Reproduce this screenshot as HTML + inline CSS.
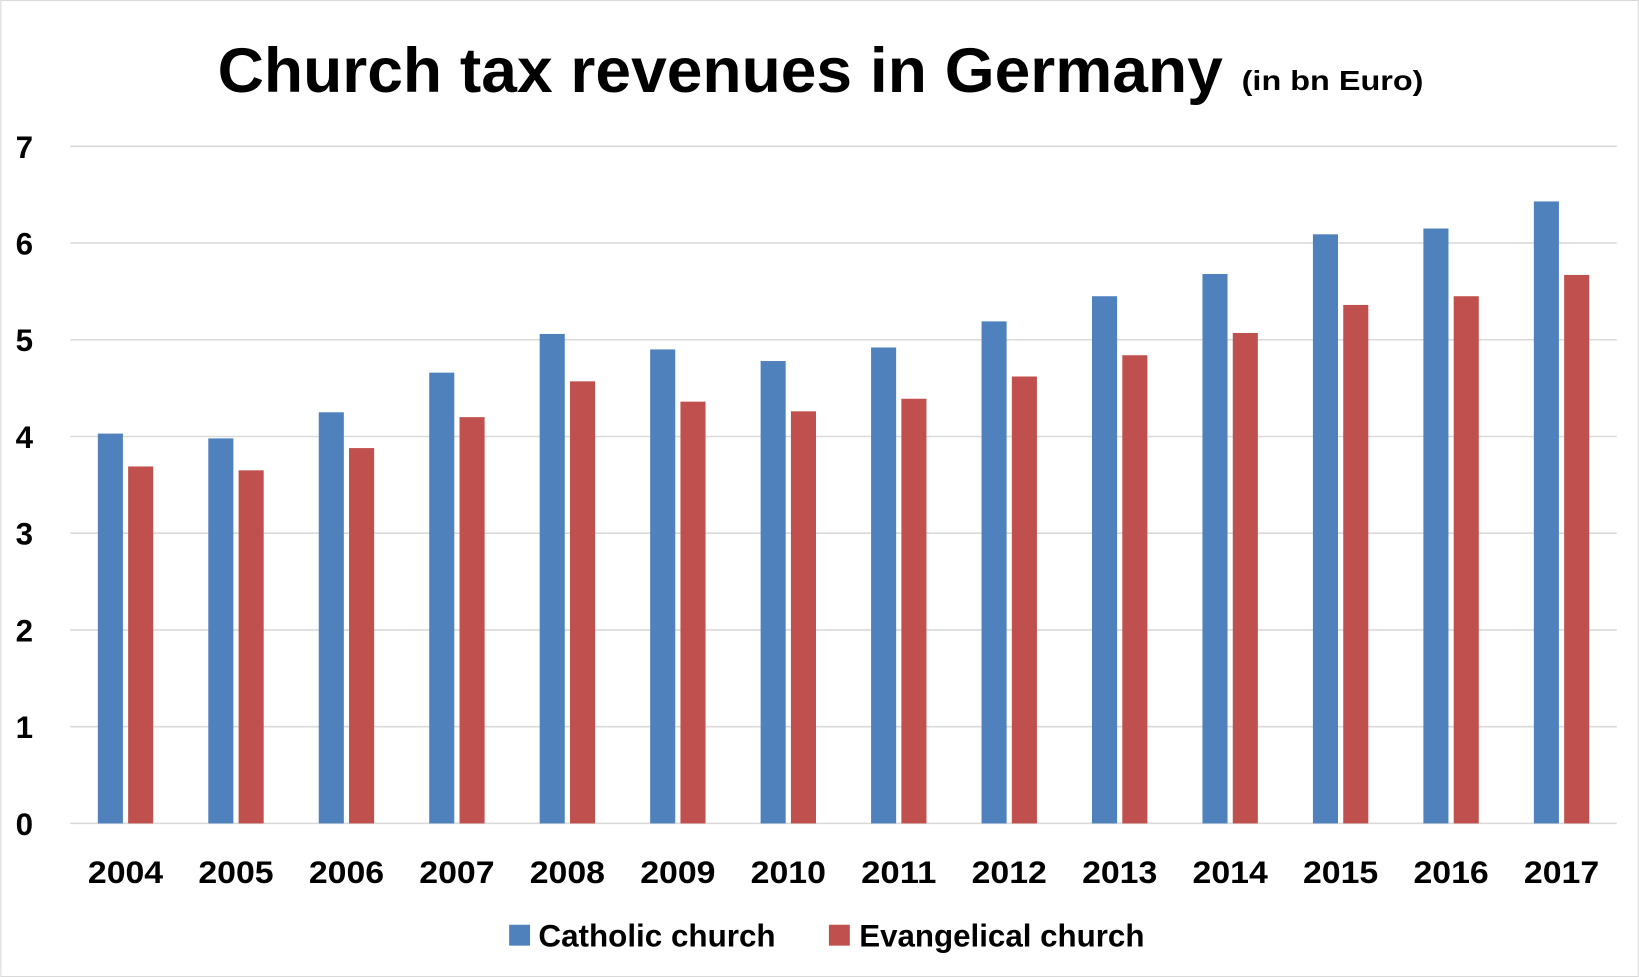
<!DOCTYPE html>
<html><head><meta charset="utf-8"><style>
html,body{margin:0;padding:0;background:#fff}
svg{display:block}
text{font-family:"Liberation Sans",sans-serif;font-weight:bold;fill:#000}
</style></head><body>
<svg id="chart" width="1639" height="977" viewBox="0 0 1568 935" xmlns="http://www.w3.org/2000/svg">
<rect x="0.5" y="0.5" width="1567" height="934" fill="#fff" stroke="#d9d9d9"/>
<text x="208" y="88" font-size="60" textLength="962" lengthAdjust="spacingAndGlyphs">Church tax revenues in Germany</text>
<text x="1188" y="86" font-size="27" textLength="174" lengthAdjust="spacingAndGlyphs">(in bn Euro)</text>
<g id="grid"></g><g id="bars"></g><g id="xlabels"></g>
<g>
<rect x="487" y="885" width="20" height="20" fill="#4f81bd"/>
<text x="515" y="906" font-size="30" textLength="227" lengthAdjust="spacingAndGlyphs">Catholic church</text>
<rect x="793" y="885" width="20" height="20" fill="#c0504d"/>
<text x="822" y="906" font-size="30" textLength="273" lengthAdjust="spacingAndGlyphs">Evangelical church</text>
</g>
</svg>
<script>
const categories=["2004","2005","2006","2007","2008","2009","2010","2011","2012","2013","2014","2015","2016","2017"];
const catholic=[4.03,3.98,4.25,4.66,5.06,4.90,4.78,4.92,5.19,5.45,5.68,6.09,6.15,6.43];
const evangelical=[3.69,3.65,3.88,4.20,4.57,4.36,4.26,4.39,4.62,4.84,5.07,5.36,5.45,5.67];
const yTicks=[0,1,2,3,4,5,6,7];
const NS="http://www.w3.org/2000/svg";
const X0=67,X1=1547,Y0=788,Y7=140;
const y=v=>Y0-(v/7)*(Y0-Y7);
const band=(X1-X0)/categories.length;
const xc=i=>X0+band*(i+0.5);
function mk(tag,attrs,parent){const e=document.createElementNS(NS,tag);for(const k in attrs)e.setAttribute(k,attrs[k]);parent.appendChild(e);return e;}
const grid=document.getElementById('grid'),bars=document.getElementById('bars'),xl=document.getElementById('xlabels');
yTicks.forEach(t=>{
  const l=mk('line',{x1:X0,x2:X1,y1:y(t),y2:y(t),stroke:'#d9d9d9','stroke-width':1.5},grid);
  
  
  const tx=mk('text',{x:23,y:y(t)+11,'font-size':30,'text-anchor':'middle'},grid);
  tx.textContent=t;
  
  
});
categories.forEach((c,i)=>{
  const cx=xc(i);
  const b1=mk('rect',{x:cx-26.5,y:y(catholic[i]),width:24,height:Y0-y(catholic[i]),fill:'#4f81bd'},bars);
  
  
  const b2=mk('rect',{x:cx+2.5,y:y(evangelical[i]),width:24,height:Y0-y(evangelical[i]),fill:'#c0504d'},bars);
  
  
  const t=mk('text',{x:cx-36,y:845,'font-size':30,textLength:72,lengthAdjust:'spacingAndGlyphs'},xl);
  t.textContent=c;
  
  
});
</script>
</body></html>
